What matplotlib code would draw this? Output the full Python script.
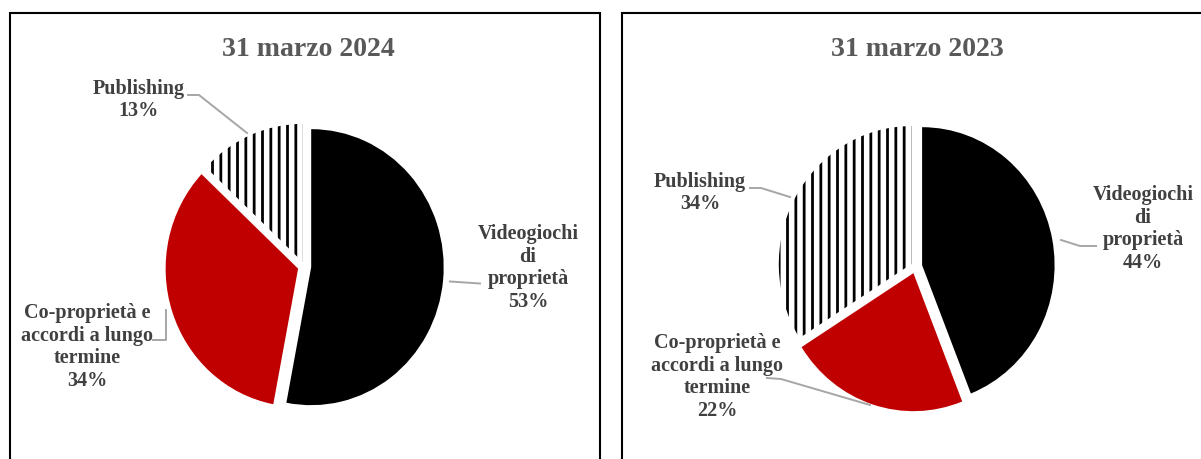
import matplotlib
matplotlib.use("Agg")
import matplotlib.pyplot as plt

# ---------------- data ----------------
categories = ["Videogiochi\ndi\nproprietà", "Co-proprietà e\naccordi a lungo\ntermine", "Publishing"]
titles = ["31 marzo 2024", "31 marzo 2023"]
values_2024 = [53, 34, 13]
values_2023 = [44, 22, 34]

# ---------------- style ----------------
plt.rcParams["font.family"] = ["Liberation Serif", "DejaVu Serif"]
plt.rcParams["hatch.linewidth"] = 2.0
plt.rcParams["hatch.color"] = "black"

W, H = 1201, 459
SX = 0.96  # horizontal squeeze of the original rendering
fig = plt.figure(figsize=(W / 100, H / 100), dpi=100)
ax = fig.add_axes([0, 0, 1, 1])


def P(x, y):
    return (x / SX, H - y)


TITLE_C = "#595959"
LABEL_C = "#404040"
LEAD_C = "#A6A6A6"
COLORS = ["#000000", "#C00000", "#FFFFFF"]

# panel frames
for xs, ys in [([10, 10, 600, 600], [470, 13, 13, 470]),
               ([622, 622, 1200], [470, 13, 13])]:
    ax.plot([x / SX for x in xs], [H - y for y in ys], color="black", lw=1.5,
            solid_joinstyle="miter", clip_on=False)

panels = [
    dict(values=values_2024, title=titles[0], center=(304.5, 266.5), tpos=(308, 49),
         lab=[(528, 268), (87, 347), (139, 100)],
         lead=[[(450, 281.5), (480, 283.5)],
               [(153, 340), (166, 340), (166, 310)],
               [(188, 95), (199, 95), (247, 133)]]),
    dict(values=values_2023, title=titles[1], center=(915.5, 266.5), tpos=(917, 49),
         lab=[(1143, 229), (717, 377), (700, 193)],
         lead=[[(1061, 240), (1080, 246), (1096, 246)],
               [(767, 378), (781, 379), (870, 405)],
               [(750, 188), (761, 188), (790, 197)]]),
]

R = 138
EXPL = [7, 7, 5]
for p in panels:
    wedges, _ = ax.pie(p["values"], colors=COLORS, startangle=90, counterclock=False,
                       center=P(*p["center"]), radius=R, explode=EXPL,
                       wedgeprops=dict(linewidth=0), frame=True)
    wedges[2].set_hatch("||")
    wedges[2].set_edgecolor("black")
    wedges[2].set_linewidth(0)
    ax.text(*P(*p["tpos"]), p["title"], ha="center", va="center", fontsize=20,
            fontweight="bold", color=TITLE_C)
    for cat, val, (lx, ly), pts in zip(categories, p["values"], p["lab"], p["lead"]):
        ax.text(*P(lx, ly), f"{cat}\n{val}%", ha="center", va="center",
                multialignment="center", fontsize=14.5, fontweight="bold",
                color=LABEL_C, linespacing=1.18)
        ax.plot([q[0] / SX for q in pts], [H - q[1] for q in pts], color=LEAD_C, lw=1.4)

ax.set_aspect("auto")
ax.set_xlim(0, W / SX)
ax.set_ylim(0, H)
ax.axis("off")
fig.savefig("out.png", dpi=100)
